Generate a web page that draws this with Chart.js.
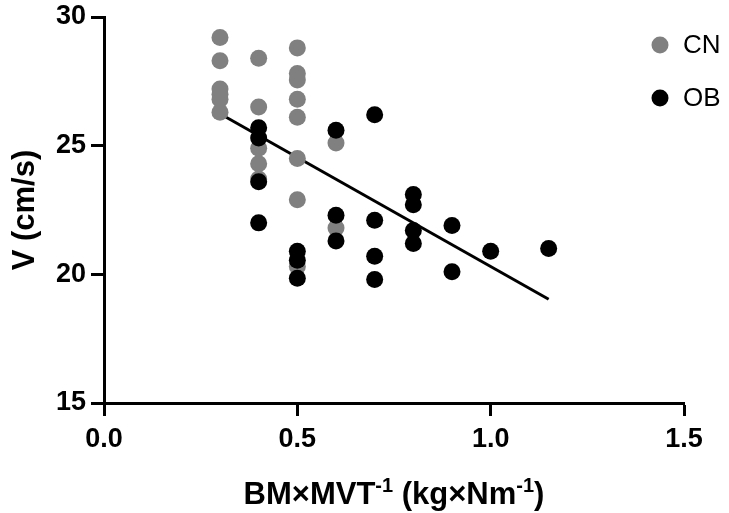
<!DOCTYPE html>
<html>
<head>
<meta charset="utf-8">
<script src="https://cdn.jsdelivr.net/npm/chart.js@4"></script>
<style>
  html, body { margin: 0; padding: 0; background: #fff; }
  #chart { display: block; }
</style>
</head>
<body>
<canvas id="chart" width="729" height="513"></canvas>
<script>
// CN group: BM×MVT⁻¹ and V (cm/s)
const cnX = [0.3, 0.3, 0.3, 0.3, 0.3, 0.3,
             0.4, 0.4, 0.4, 0.4, 0.4,
             0.5, 0.5, 0.5, 0.5, 0.5, 0.5, 0.5, 0.5,
             0.6, 0.6];
const cnV = [29.2, 28.3, 27.2, 27.0, 26.8, 26.3,
             28.4, 26.5, 24.9, 24.3, 23.7,
             28.8, 27.8, 27.55, 26.8, 26.1, 24.5, 22.9, 20.3,
             25.1, 21.8];

// OB group
const obX = [0.4, 0.4, 0.4, 0.4,
             0.5, 0.5, 0.5,
             0.6, 0.6, 0.6,
             0.7, 0.7, 0.7, 0.7,
             0.8, 0.8, 0.8, 0.8,
             0.9, 0.9,
             1.0,
             1.15];
const obV = [25.7, 25.3, 23.6, 22.0,
             20.9, 20.55, 19.85,
             25.6, 22.3, 21.3,
             26.2, 22.1, 20.7, 19.8,
             23.1, 22.7, 21.7, 21.2,
             21.9, 20.1,
             20.9,
             21.0];

// regression line end points
const fitX = [0.3, 1.15];
const fitV = [26.24, 19.03];

const xTicks = [0, 0.5, 1.0, 1.5];
const yTicks = [15, 20, 25, 30];

const FONT = '"Liberation Sans", Arial, Helvetica, sans-serif';

const toPoints = (xs, ys) => xs.map((x, i) => ({ x, y: ys[i] }));

// legend drawn over the top right corner, outside the plot box
const cornerLegend = {
  id: 'cornerLegend',
  afterDraw(chart) {
    const ctx = chart.ctx;
    const items = chart.data.datasets.filter(d => d.showInLegend);
    ctx.save();
    ctx.font = '26px ' + FONT;
    ctx.textBaseline = 'middle';
    ctx.textAlign = 'left';
    items.forEach((d, i) => {
      const y = 45 + i * 53;
      ctx.fillStyle = d.backgroundColor;
      ctx.beginPath();
      ctx.arc(660, y, 8.5, 0, Math.PI * 2);
      ctx.fill();
      ctx.fillStyle = '#000';
      ctx.fillText(d.label, 683, y + 1);
    });
    ctx.restore();
  }
};

// x axis title with raised "-1" exponents
const xTitle = {
  id: 'xTitle',
  afterDraw(chart) {
    const ctx = chart.ctx;
    const parts = [
      { t: 'BM×MVT' }, { t: '-1', sup: true },
      { t: ' (kg×Nm' }, { t: '-1', sup: true },
      { t: ')' }
    ];
    const big = 'bold 31px ' + FONT;
    const small = 'bold 20px ' + FONT;
    ctx.save();
    ctx.textBaseline = 'alphabetic';
    ctx.textAlign = 'left';
    ctx.fillStyle = '#000';
    let total = 0;
    parts.forEach(p => {
      ctx.font = p.sup ? small : big;
      p.w = ctx.measureText(p.t).width;
      total += p.w;
    });
    const area = chart.chartArea;
    let x = (area.left + area.right) / 2 - total / 2;
    const base = 504;
    parts.forEach(p => {
      ctx.font = p.sup ? small : big;
      ctx.fillText(p.t, x, p.sup ? base - 12 : base);
      x += p.w;
    });
    ctx.restore();
  }
};

const axisGrid = {
  drawOnChartArea: false,
  drawTicks: true,
  tickLength: 13,
  tickWidth: 3,
  tickColor: '#000'
};

new Chart(document.getElementById('chart'), {
  type: 'scatter',
  data: {
    datasets: [
      {
        label: 'CN',
        data: toPoints(cnX, cnV),
        backgroundColor: '#808080',
        borderWidth: 0,
        pointRadius: 8.5,
        order: 2,
        showInLegend: true
      },
      {
        label: 'OB',
        data: toPoints(obX, obV),
        backgroundColor: '#000000',
        borderWidth: 0,
        pointRadius: 8.5,
        order: 1,
        showInLegend: true
      },
      {
        type: 'line',
        label: 'fit',
        data: toPoints(fitX, fitV),
        borderColor: '#000',
        borderWidth: 3,
        pointRadius: 0,
        fill: false,
        order: 3
      }
    ]
  },
  options: {
    responsive: false,
    animation: false,
    layout: { padding: { left: 0, top: 17, right: 45, bottom: 0 } },
    plugins: {
      legend: { display: false },
      tooltip: { enabled: false }
    },
    scales: {
      x: {
        type: 'linear',
        min: 0,
        max: 1.5,
        afterBuildTicks: s => { s.ticks = xTicks.map(v => ({ value: v })); },
        afterFit: s => { s.height = 110; },
        border: { color: '#000', width: 3 },
        grid: axisGrid,
        ticks: {
          color: '#000',
          padding: 7,
          maxRotation: 0,
          font: { family: FONT, size: 27, weight: 'bold' },
          callback: v => v.toFixed(1)
        }
      },
      y: {
        type: 'linear',
        min: 15,
        max: 30,
        afterBuildTicks: s => { s.ticks = yTicks.map(v => ({ value: v })); },
        afterFit: s => {
          s.width = 104;
          // let the top label hang into the padding
          s.paddingTop = 0;
          s.paddingBottom = 0;
        },
        border: { color: '#000', width: 3 },
        grid: axisGrid,
        ticks: {
          color: '#000',
          padding: 5,
          font: { family: FONT, size: 27, weight: 'bold' }
        },
        title: {
          display: true,
          text: 'V (cm/s)',
          color: '#000',
          padding: { top: 7, bottom: 0 },
          font: { family: FONT, size: 31, weight: 'bold' }
        }
      }
    }
  },
  plugins: [cornerLegend, xTitle]
});
</script>
</body>
</html>
